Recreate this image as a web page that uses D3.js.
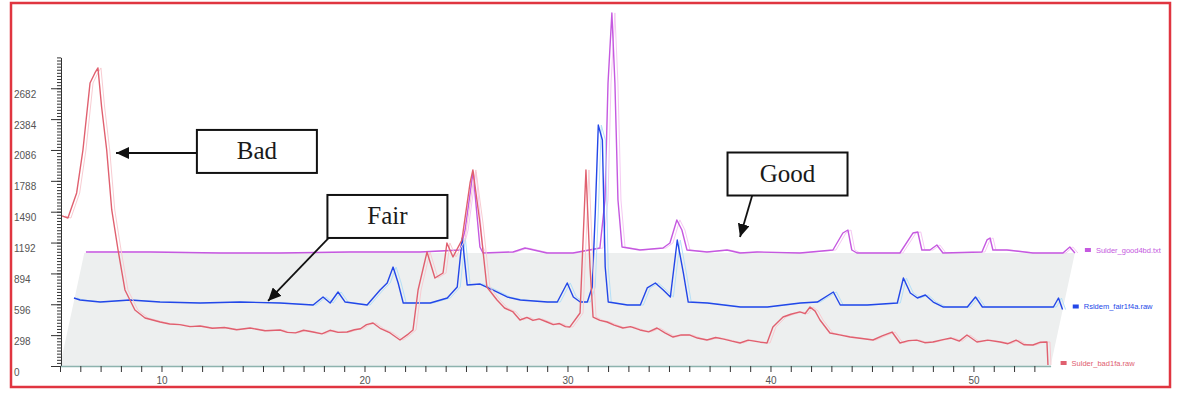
<!DOCTYPE html>
<html lang="en">
<head>
<meta charset="UTF-8">
<title>XRD scans - bad / fair / good</title>
<style>
  body { margin: 0; background: #fff; }
  svg { display: block; }
</style>
</head>
<body>
<div id="chart-container"></div>
<script src="https://d3js.org/d3.v7.min.js"></script>
<script>
// 2-theta (deg) and counts for each scan
const badTheta = [5.10, 5.39, 5.82, 6.13, 6.48, 6.72, 6.87, 7.05, 7.30, 7.55, 7.86, 8.20, 8.69, 9.19, 9.93, 10.4, 10.9, 11.4, 11.90, 12.5, 13.1, 13.7, 14.36,
  15.1, 15.84, 16.2, 16.6, 17.0, 17.46, 17.9, 18.3, 18.7, 19.14, 19.5, 19.8, 20.1, 20.42, 20.8, 21.26, 21.75, 22.1, 22.39, 22.64, 23.08, 23.47, 23.87, 24.06, 24.36, 24.80, 25.20, 25.34,
  25.69, 26.03, 26.53, 26.9, 27.32, 27.66, 28.0, 28.3, 28.6, 28.99, 29.3, 29.6, 29.9, 30.12, 30.62, 30.91, 31.11, 31.26, 31.6, 31.95, 32.3, 32.73, 33.1, 33.57, 34.0, 34.41, 34.8, 35.20, 35.6, 36.0,
  36.4, 36.87, 37.3, 37.7, 38.1, 38.50, 38.9, 39.2, 39.5, 39.83, 40.12, 40.62, 41.0, 41.45, 41.7, 41.95, 42.2, 42.44, 42.93, 43.4, 43.92, 44.5, 45.05, 45.5, 45.99, 46.38, 46.8, 47.2, 47.6, 48.00, 48.5, 48.9, 49.3, 49.68,
  50.17, 50.7, 51.31, 51.7, 52.1, 52.5, 52.93, 53.3, 53.62, 53.67];
const badCounts = [1449, 1429, 1671, 2086, 2733, 2830, 2878, 2501, 2086, 1507, 1120, 734, 541, 464, 425, 405, 400, 380, 386, 365, 372, 350, 367,
  340, 348, 325, 320, 345, 328, 310, 345, 325, 328, 350, 360, 400, 415, 360, 319, 251, 300, 348, 734, 1101, 850, 898, 1188, 1053, 1217, 1767, 1893,
  1381, 763, 637, 560, 522, 444, 470, 440, 455, 425, 400, 410, 380, 377, 512, 1893, 956, 473, 440, 425, 395, 367, 380, 348, 330, 367, 320, 280, 300, 300,
  270, 251, 275, 260, 240, 222, 250, 240, 230, 222, 377, 473, 500, 522, 505, 570, 530, 444, 319, 300, 280, 265, 251, 290, 328, 222, 245, 250, 225, 232, 255, 270, 240, 299,
  232, 250, 232, 215, 250, 205, 203, 230, 232, 10];

const fairTheta = [5.09, 5.39, 6.38, 7.85, 9.33, 11.30, 13.27, 15.24, 16.87, 17.36, 17.71, 18.10, 18.45, 19.53, 20.17, 20.52,
  20.81, 21.06, 21.31, 22.64, 23.48, 23.97, 24.22, 24.46, 25.10, 25.74, 26.43, 27.08, 28.41, 28.90, 29.39, 29.69, 30.03, 30.38,
  30.62, 30.77, 30.92, 31.12, 31.26, 31.41, 32.35, 32.99, 33.33, 33.73, 34.12, 34.47, 34.81, 35.11, 35.35, 36.29, 37.92, 39.25,
  40.87, 41.71, 42.50, 42.84, 44.17, 45.65, 45.95, 46.29, 46.64, 47.03, 47.42, 47.92, 49.10, 49.50, 49.84, 50.73, 52.35, 53.34,
  53.59, 53.79];
const fairCounts = [111, 92, 72, 92, 72, 63, 72, 63, 43, 121, 63, 169, 72, 43, 188, 256,
  410, 256, 63, 63, 111, 217, 691, 237, 246, 188, 121, 92, 72, 72, 256, 121, 72, 72,
  217, 932, 1781, 1637, 410, 72, 43, 43, 208, 256, 188, 121, 671, 353, 72, 63, 24, 24,
  63, 72, 169, 43, 43, 63, 304, 159, 111, 140, 72, 24, 24, 121, 24, 24, 24, 24,
  111, 0];

const goodTheta = [5.08, 8.24, 11.69, 14.64, 18.09, 21.54, 23.51, 23.76, 24.15, 24.49, 24.64, 26.12, 26.71, 27.79, 29.07,
  30.40, 30.65, 30.80, 30.99, 31.14, 31.29, 31.49, 32.37, 33.51, 33.85, 34.19, 34.44, 34.69, 35.67, 36.66, 37.30, 38.14,
  40.25, 41.88, 42.37, 42.62, 42.81, 43.06, 45.18, 45.82, 46.06, 46.26, 46.66, 47.00, 47.30, 49.22, 49.47, 49.62, 49.76,
  50.45, 51.73, 53.21, 53.55, 53.80];
const goodCounts = [10, 10, 0, 0, 10, 10, 29, 222, 782, 58, 0, 10, 48, 0, 0,
  48, 512, 1642, 2318, 1642, 512, 58, 29, 48, 97, 319, 222, 29, 10, 29, 0, 10,
  0, 29, 193, 222, 29, 0, 0, 193, 203, 29, 29, 77, 0, 10, 126, 145, 29,
  29, 0, 0, 58, 0];

const yTickValues = [0, 298, 596, 894, 1192, 1490, 1788, 2086, 2384, 2682];
const xTickLabels = [10, 20, 30, 40, 50];
const seriesNames = ["Sulder_bad1fa.raw", "Rsldem_fair1f4a.raw", "Sulder_good4bd.txt"];
const noteLabels = ["Bad", "Fair", "Good"];

document.addEventListener("DOMContentLoaded", function() {
    const W = 1184, H = 393;
    const depth = { dx: 24.3, dy: -113 };   // offset of the back row of the 3D stack

    const svg = d3.select("#chart-container")
                  .append("svg")
                  .attr("width", W)
                  .attr("height", H);

    svg.append("rect").attr("width", W).attr("height", H).attr("fill", "#fff");

    const x = d3.scaleLinear().domain([5, 53.8]).range([60, 1050.6]);
    const y = d3.scaleLinear().domain([0, 2980]).range([366, 57.4]);

    // floor of the stack
    const floor = [[5, 0, 0], [53.8, 0, 0], [53.8, 0, 1], [5, 0, 1]];
    svg.append("polygon")
       .attr("points", floor.map(p => [x(p[0]) + p[2] * depth.dx, y(p[1]) + p[2] * depth.dy].join(",")).join(" "))
       .attr("fill", "#edefef");

    const series = [
        { name: seriesNames[2], theta: goodTheta, counts: goodCounts, z: 1,   color: "#c559e0", light: "#f5c8f3" },
        { name: seriesNames[1], theta: fairTheta, counts: fairCounts, z: 0.5, color: "#2347e8", light: "#b5e0f8" },
        { name: seriesNames[0], theta: badTheta,  counts: badCounts,  z: 0,   color: "#e0606f", light: "#f8ccd2" }
    ];

    series.forEach(s => {
        const pts = s.theta.map((t, i) => [t, s.counts[i]]);
        const line = d3.line()
                       .x(d => x(d[0]) + s.z * depth.dx)
                       .y(d => y(d[1]) + s.z * depth.dy);
        // lighter back edge of the ribbon
        svg.append("path")
           .datum(pts)
           .attr("transform", "translate(3,0)")
           .attr("fill", "none")
           .attr("stroke", s.light)
           .attr("stroke-width", 1)
           .attr("d", line);
        svg.append("path")
           .datum(pts)
           .attr("fill", "none")
           .attr("stroke", s.color)
           .attr("stroke-width", 1.4)
           .attr("stroke-linejoin", "round")
           .attr("d", line);

        // legend entry at the end of each row
        const lx = x(53.8) + s.z * depth.dx + 10;
        const ly = y(0) + s.z * depth.dy - 3;
        svg.append("rect")
           .attr("x", lx).attr("y", ly - 2)
           .attr("width", 6).attr("height", 4)
           .attr("fill", s.color);
        svg.append("text")
           .attr("x", lx + 11).attr("y", ly + 2.5)
           .attr("font-family", "Liberation Sans, Arial, sans-serif")
           .attr("font-size", 7.5)
           .attr("fill", s.color)
           .text(s.name);
    });

    // y axis, labels left aligned like the original software
    const yAxis = svg.append("g")
       .attr("transform", "translate(61,0)")
       .call(d3.axisLeft(y).tickValues(yTickValues).tickSize(10).tickSizeOuter(0).tickFormat(d3.format("d")));
    svg.append("g")
       .attr("transform", "translate(61,0)")
       .call(d3.axisLeft(y).tickValues(d3.range(0, 2981, 29.8)).tickSize(4).tickFormat(""))
       .call(g => g.select(".domain").remove());
    yAxis.select(".domain").attr("stroke", "#333");
    yAxis.selectAll("text")
         .attr("x", -47)
         .attr("dy", "0.9em")
         .attr("text-anchor", "start")
         .attr("fill", "#555")
         .attr("font-size", 10)
         .attr("font-family", "Liberation Sans, Arial, sans-serif");
    svg.selectAll(".tick line").attr("stroke", "#333");

    // x axis, one tick per degree
    const xAxis = svg.append("g")
       .attr("transform", "translate(0,366)")
       .call(d3.axisBottom(x)
               .tickValues(d3.range(5, 54))
               .tickSize(6)
               .tickSizeOuter(0)
               .tickPadding(5)
               .tickFormat(d => xTickLabels.includes(d) ? d : ""));
    xAxis.select(".domain").attr("stroke", "#8db3ae").attr("stroke-width", 1.3);
    xAxis.selectAll(".tick line").attr("stroke", "#333");
    xAxis.selectAll("text")
         .attr("fill", "#555")
         .attr("font-size", 10)
         .attr("font-family", "Liberation Sans, Arial, sans-serif");

    // call-out boxes
    svg.append("defs").append("marker")
       .attr("id", "head")
       .attr("markerUnits", "userSpaceOnUse")
       .attr("markerWidth", 14).attr("markerHeight", 12)
       .attr("refX", 13).attr("refY", 6)
       .attr("orient", "auto")
       .append("path")
       .attr("d", "M0,0 L13,6 L0,12 Z")
       .attr("fill", "#111");

    const notes = [
        { text: noteLabels[0], box: [14.70, 2072], tip: [7.76, 2057], from: [11.75, 2057] },
        { text: noteLabels[1], box: [21.13, 1444], tip: [15.25, 628],  from: [18.3, 1250] },
        { text: noteLabels[2], box: [40.84, 1854], tip: [38.5, 1246],  from: [39.1, 1646] }
    ];
    const bw = 120, bh = 43;
    notes.forEach(n => {
        svg.append("line")
           .attr("x1", x(n.from[0])).attr("y1", y(n.from[1]))
           .attr("x2", x(n.tip[0])).attr("y2", y(n.tip[1]))
           .attr("stroke", "#111")
           .attr("stroke-width", 1.8)
           .attr("marker-end", "url(#head)");
        svg.append("rect")
           .attr("x", x(n.box[0]) - bw / 2).attr("y", y(n.box[1]) - bh / 2)
           .attr("width", bw).attr("height", bh)
           .attr("fill", "#fff")
           .attr("stroke", "#111")
           .attr("stroke-width", 2);
        svg.append("text")
           .attr("x", x(n.box[0])).attr("y", y(n.box[1]) + 8)
           .attr("text-anchor", "middle")
           .attr("font-family", "Liberation Serif, Times New Roman, serif")
           .attr("font-size", 25)
           .attr("fill", "#1a1a1a")
           .text(n.text);
    });

    // red frame round the whole figure
    svg.append("rect")
       .attr("x", 11).attr("y", 3)
       .attr("width", 1159).attr("height", 384)
       .attr("fill", "none")
       .attr("stroke", "#e03540")
       .attr("stroke-width", 2.5);
});
</script>
</body>
</html>
